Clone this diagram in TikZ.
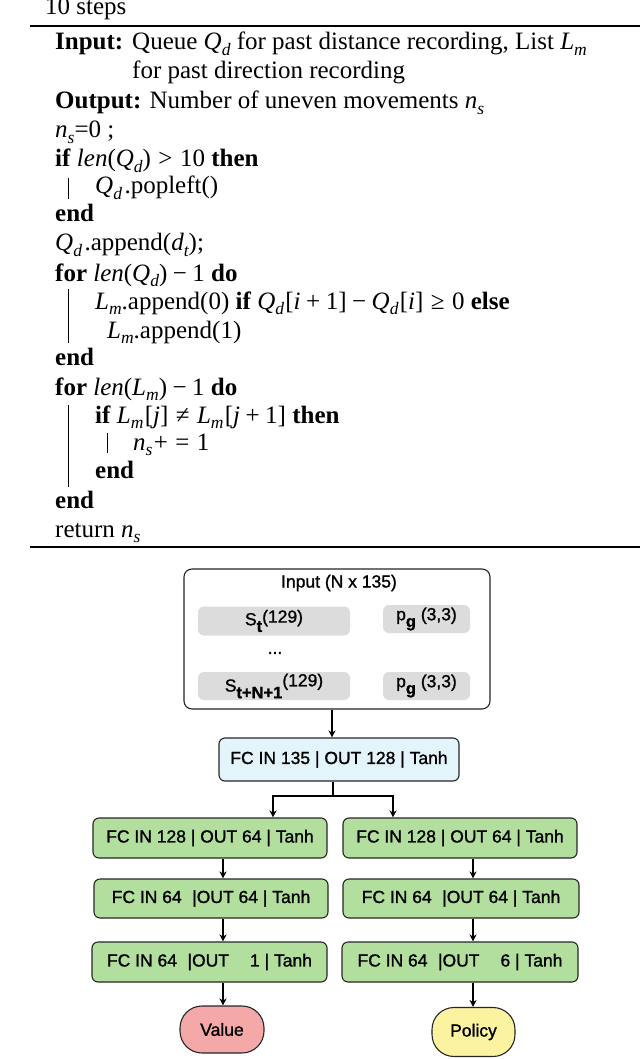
\documentclass[tikz,border=0pt]{standalone}
\usepackage{fontspec}
\setmainfont{Liberation Serif}
\newfontfamily\diagfont{Liberation Sans}[FakeBold=1.2]
\usetikzlibrary{arrows.meta}
\newcommand{\algsize}{\fontsize{25}{29}\selectfont}
\newcommand{\dsize}{\diagfont\fontsize{17.5}{19}\selectfont}
\newcommand{\mysub}[1]{\raisebox{-0.22em}{\fontsize{17.5}{18}\selectfont\itshape #1}}
\newcommand{\itx}[1]{\textit{#1}}
\newcommand{\bop}[1]{\hspace{0.22em}#1\hspace{0.22em}}
\newcommand{\rel}[1]{\hspace{0.3em}#1\hspace{0.3em}}
\newcommand{\dsub}[1]{\raisebox{-0.38em}{\fontsize{16.5}{16}\selectfont\bfseries #1}}
\definecolor{graybox}{HTML}{DCDCDC}
\definecolor{fcblue}{HTML}{E3F4FB}
\definecolor{fcgreen}{HTML}{B2DE9E}
\definecolor{valpink}{HTML}{F4A8A8}
\definecolor{polyellow}{HTML}{FCF3A0}
\tikzset{
  algo/.style={anchor=base west, inner sep=0pt, font=\algsize},
  algorule/.style={line width=1.8pt},
  algobar/.style={line width=0.9pt},
  box/.style={draw=black!85, line width=1.1pt, rounded corners=6pt, inner sep=0pt, font=\dsize, align=center},
  gbox/.style={fill=graybox, rounded corners=6pt, inner sep=0pt, font=\dsize},
  arr/.style={line width=1.1pt, -{Stealth[length=7pt,width=7pt]}},
  conn/.style={line width=1.1pt},
}
\begin{document}
\begin{tikzpicture}[x=1pt,y=-1pt]
\useasboundingbox (0,0) rectangle (640,1059);
% ---------- algorithm ----------
\node[algo] (steps) at (45,15) {10 steps};
\draw[algorule] (30,26) -- (640,26);
\node[algo] (l1a) at (55,50) {\textbf{Input:}};
\node[algo] (l1b) at (132,50) {Queue \itx{Q}\mysub{d} for past distance recording, List \itx{L}\mysub{m}};
\node[algo] (l2) at (132,79) {for past direction recording};
\node[algo] (l3) at (55,109) {\textbf{Output:} Number of uneven movements \itx{n}\mysub{s}};
\node[algo] (l4) at (55,138) {\itx{n}\mysub{s}=0 ;};
\node[algo] (l5) at (55,167) {\textbf{if} \itx{len}(\itx{Q}\mysub{d})\rel{>}10 \textbf{then}};
\node[algo] (l6) at (95,194) {\itx{Q}\mysub{d}\hspace{0.1em}.popleft()};
\node[algo] (l7) at (55,222) {\textbf{end}};
\node[algo] (l8) at (55,251) {\itx{Q}\mysub{d}\hspace{0.1em}.append(\itx{d}\mysub{t});};
\node[algo] (l9) at (55,281) {\textbf{for} \itx{len}(\itx{Q}\mysub{d})\bop{−}1 \textbf{do}};
\node[algo] (l10) at (95,309) {\itx{L}\mysub{m}.append(0) \textbf{if} \itx{Q}\mysub{d}\hspace{0.05em}[\itx{i}\bop{+}1]\bop{−}\itx{Q}\mysub{d}\hspace{0.05em}[\itx{i}]\rel{≥}0 \textbf{else}};
\node[algo] (l11) at (107,338) {\itx{L}\mysub{m}.append(1)};
\node[algo] (l12) at (55,365) {\textbf{end}};
\node[algo] (l13) at (55,395) {\textbf{for} \itx{len}(\itx{L}\mysub{m})\bop{−}1 \textbf{do}};
\node[algo] (l14) at (95,423) {\textbf{if} \itx{L}\mysub{m}\hspace{0.05em}[\itx{j}]\rel{≠}\itx{L}\mysub{m}\hspace{0.05em}[\itx{j}\bop{+}1] \textbf{then}};
\node[algo] (l15) at (133,450) {\itx{n}\mysub{s}\hspace{0.05em}+\rel{=}1};
\node[algo] (l16) at (95,478) {\textbf{end}};
\node[algo] (l17) at (55,508) {\textbf{end}};
\node[algo] (l18) at (55,537) {return \itx{n}\mysub{s}};
\draw[algorule] (30,547) -- (640,547);
\draw[algobar] (68,178) -- (68,199);
\draw[algobar] (68,289) -- (68,343);
\draw[algobar] (68,405) -- (68,487);
\draw[algobar] (107,433) -- (107,453);
% ---------- network ----------
\node[box, fill=white, rounded corners=8pt, minimum width=306pt, minimum height=140pt] (inp) at (337,639) {};
\node[inner sep=0pt, font=\dsize] (ttl) at (339,583) {Input (N x 135)};
\node[gbox, minimum width=152pt, minimum height=29pt] (g1) at (274,621) {S\dsub{t}\raisebox{0.15em}{(129)}};
\node[gbox, minimum width=87pt, minimum height=28pt] (g2) at (426.5,619) {p\dsub{g} (3,3)};
\node[inner sep=0pt, font=\dsize] (dots) at (275,653) {...};
\node[gbox, minimum width=152pt, minimum height=28pt] (g3) at (274,686) {S\dsub{t+N+1}\raisebox{0.3em}{(129)}};
\node[gbox, minimum width=87pt, minimum height=28pt] (g4) at (426.5,686) {p\dsub{g} (3,3)};
\node[box, fill=fcblue, minimum width=240pt, minimum height=43pt] (fc) at (339,759.5) {FC IN 135 | OUT 128 | Tanh};
\node[box, fill=fcgreen, minimum width=234pt, minimum height=40pt] (L1) at (210,838) {FC IN 128 | OUT 64 | Tanh};
\node[box, fill=fcgreen, minimum width=234pt, minimum height=40pt] (R1) at (460,838) {FC IN 128 | OUT 64 | Tanh};
\node[box, fill=fcgreen, minimum width=234pt, minimum height=39pt] (L2) at (211,898.5) {FC IN 64\hspace{0.6em}|OUT 64 | Tanh};
\node[box, fill=fcgreen, minimum width=236pt, minimum height=39pt] (R2) at (461,898.5) {FC IN 64\hspace{0.6em}|OUT 64 | Tanh};
\node[box, fill=fcgreen, minimum width=235pt, minimum height=40pt] (L3) at (209.5,962) {FC IN 64\hspace{0.6em}|OUT\hspace{1.2em}1 | Tanh};
\node[box, fill=fcgreen, minimum width=236pt, minimum height=40pt] (R3) at (460,962) {FC IN 64\hspace{0.6em}|OUT\hspace{1.2em}6 | Tanh};
\node[box, fill=valpink, rounded corners=22pt, minimum width=84pt, minimum height=47pt] (val) at (222,1029.5) {Value};
\node[box, fill=polyellow, rounded corners=22pt, minimum width=83pt, minimum height=49pt] (pol) at (473.5,1032) {Policy};
% arrow columns
\coordinate (cA) at (332,0);
\coordinate (br) at (333,796);
\coordinate (bL) at (273,0);
\coordinate (bR) at (393,0);
\coordinate (cL) at (223,0);
\coordinate (cR) at (473,0);
\draw[arr] (inp.south -| cA) -- (fc.north -| cA);
\draw[conn] (fc.south -| br) -- (br);
\draw[arr] (br) -| (L1.north -| bL);
\draw[arr] (br) -| (R1.north -| bR);
\draw[arr] (L1.south -| cL) -- (L2.north -| cL);
\draw[arr] (L2.south -| cL) -- (L3.north -| cL);
\draw[arr] (L3.south -| cL) -- (val.north -| cL);
\draw[arr] (R1.south -| cR) -- (R2.north -| cR);
\draw[arr] (R2.south -| cR) -- (R3.north -| cR);
\draw[arr] (R3.south -| cR) -- (pol.north -| cR);
\end{tikzpicture}
\end{document}
